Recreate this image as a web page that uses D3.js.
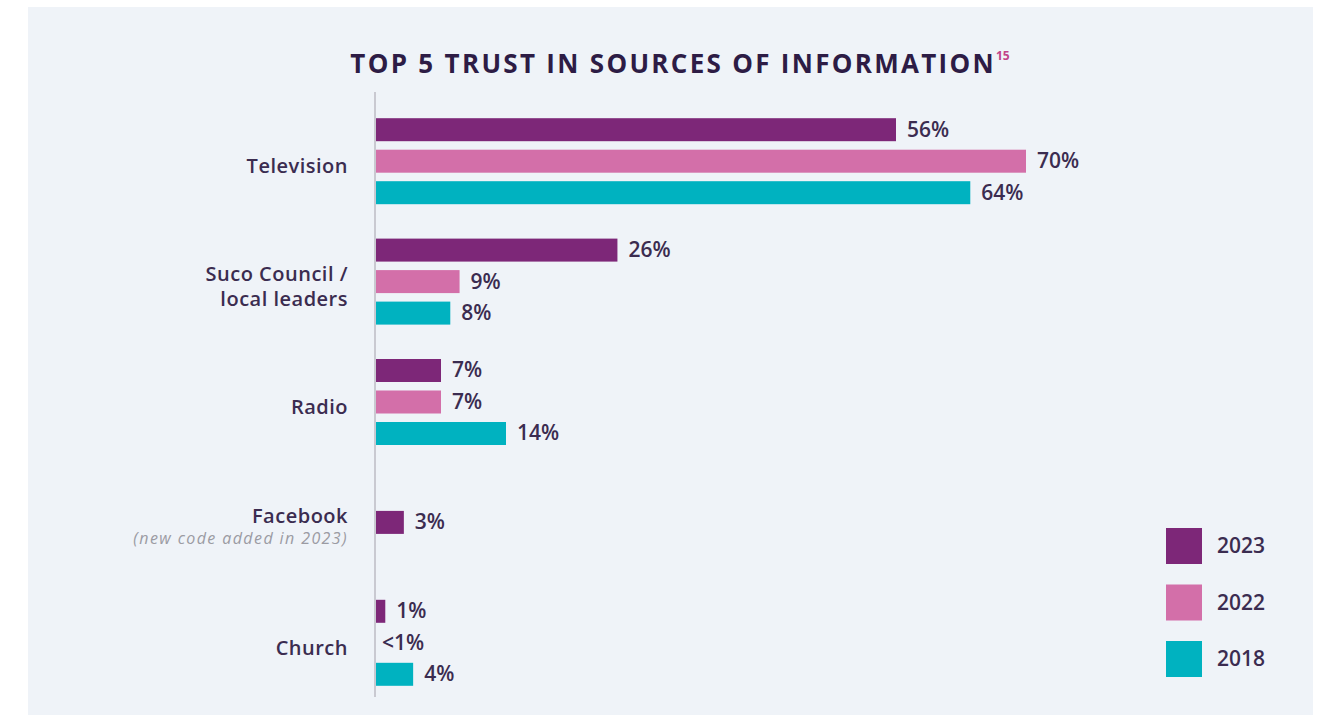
<!DOCTYPE html>
<html>
<head>
<meta charset="utf-8">
<script src="https://cdn.jsdelivr.net/npm/d3@7"></script>
<style>
  html, body { margin: 0; padding: 0; background: #ffffff; }
  svg { display: block; }
</style>
</head>
<body>
<svg id="chart" width="1319" height="715"></svg>
<script>
// Trust in sources of information, share of respondents (%)
const categories = ["Television", "Suco Council / local leaders", "Radio", "Facebook", "Church"];
const categoryLines = [["Television"], ["Suco Council /", "local leaders"], ["Radio"], ["Facebook"], ["Church"]];
const categoryNotes = ["", "", "", "(new code added in 2023)", ""];
const years = ["2023", "2022", "2018"];
const values2023 = [56, 26, 7, 3, 1];
const values2022 = [70, 9, 7, null, 0];
const values2018 = [64, 8, 14, null, 4];
const labels2022 = ["70%", "9%", "7%", null, "<1%"];
const colors = ["#7d2778", "#d36fa9", "#00b2c0"];

const seriesValues = [values2023, values2022, values2018];
const seriesLabels = [
  values2023.map(v => v == null ? null : v + "%"),
  labels2022,
  values2018.map(v => v == null ? null : v + "%")
];

const svg = d3.select("#chart");
const textColor = "#3b2c50";
const font = "'Open Sans', 'Noto Sans', sans-serif";

// panel background
svg.append("rect")
  .attr("x", 28).attr("y", 7).attr("width", 1285).attr("height", 708)
  .attr("fill", "#eff3f8");

// title
const title = svg.append("text")
  .attr("x", 680).attr("y", 73)
  .attr("text-anchor", "middle")
  .attr("font-family", font).attr("font-weight", 700)
  .attr("font-size", 26).attr("letter-spacing", 2.3)
  .attr("fill", "#2d1c45");
title.append("tspan").text("TOP 5 TRUST IN SOURCES OF INFORMATION");
title.append("tspan")
  .attr("dy", -13).attr("dx", 0)
  .attr("font-size", 12).attr("letter-spacing", 0)
  .attr("fill", "#c2448a")
  .text("15");

// scales
const x = d3.scaleLinear().domain([0, 70]).range([376, 1026]);
const y0 = d3.scaleBand().domain(categories).range([101, 703]).paddingInner(0);
const y1 = d3.scaleBand().domain(years).range([0, 86]).paddingInner(0.27);
const bw = y1.bandwidth();

// build bar records; groups with a single series keep it centred
const bars = [];
categories.forEach((c, i) => {
  const present = years.filter((yr, s) => seriesValues[s][i] != null);
  const first = y1(present[0]);
  const last = y1(present[present.length - 1]) + bw;
  const offset = y0(c) + y0.bandwidth() / 2 - (first + last) / 2;
  years.forEach((yr, s) => {
    const v = seriesValues[s][i];
    if (v == null) return;
    bars.push({ cat: c, year: yr, value: v, label: seriesLabels[s][i], color: colors[s], y: offset + y1(yr) });
  });
});

svg.append("g").selectAll("rect")
  .data(bars.filter(d => d.value > 0))
  .join("rect")
  .attr("x", x(0))
  .attr("y", d => d.y)
  .attr("width", d => x(d.value) - x(0))
  .attr("height", bw)
  .attr("fill", d => d.color);

svg.append("g").selectAll("text")
  .data(bars)
  .join("text")
  .attr("x", d => x(d.value) + (d.value > 0 ? 11 : 6))
  .attr("y", d => d.y + bw / 2)
  .attr("dy", "0.33em")
  .attr("font-family", font).attr("font-weight", 600)
  .attr("font-size", 21)
  .attr("fill", textColor)
  .text(d => d.label);

// vertical axis line
svg.append("line")
  .attr("x1", 375).attr("x2", 375)
  .attr("y1", 92).attr("y2", 697)
  .attr("stroke", "#c9c9d1").attr("stroke-width", 2);

// category labels
const catG = svg.append("g");
categories.forEach((c, i) => {
  const lines = categoryLines[i];
  const cy = y0(c) + y0.bandwidth() / 2 + 5;
  const lh = 25;
  const note = categoryNotes[i];
  const total = lines.length + (note ? 0.9 : 0);
  const startY = cy - (total - 1) * lh / 2;
  const t = catG.append("text")
    .attr("text-anchor", "end")
    .attr("font-family", font).attr("font-weight", 600)
    .attr("font-size", 20).attr("letter-spacing", 0.5)
    .attr("fill", textColor);
  lines.forEach((ln, j) => {
    t.append("tspan")
      .attr("x", 348).attr("y", startY + j * lh)
      .attr("dy", "0.35em")
      .text(ln);
  });
  if (note) {
    catG.append("text")
      .attr("x", 348).attr("y", startY + lines.length * lh - 3)
      .attr("dy", "0.35em")
      .attr("text-anchor", "end")
      .attr("font-family", font).attr("font-style", "italic")
      .attr("font-size", 16).attr("letter-spacing", 1.4)
      .attr("fill", "#9b9ba3")
      .text(note);
  }
});

// legend
const legend = svg.append("g").attr("transform", "translate(1166,528)");
const lg = legend.selectAll("g")
  .data(years)
  .join("g")
  .attr("transform", (d, i) => `translate(0,${i * 56.5})`);
lg.append("rect")
  .attr("width", 36).attr("height", 36)
  .attr("fill", (d, i) => colors[i]);
lg.append("text")
  .attr("x", 51).attr("y", 18).attr("dy", "0.35em")
  .attr("font-family", font).attr("font-weight", 600)
  .attr("font-size", 21)
  .attr("fill", textColor)
  .text(d => d);
</script>
</body>
</html>
